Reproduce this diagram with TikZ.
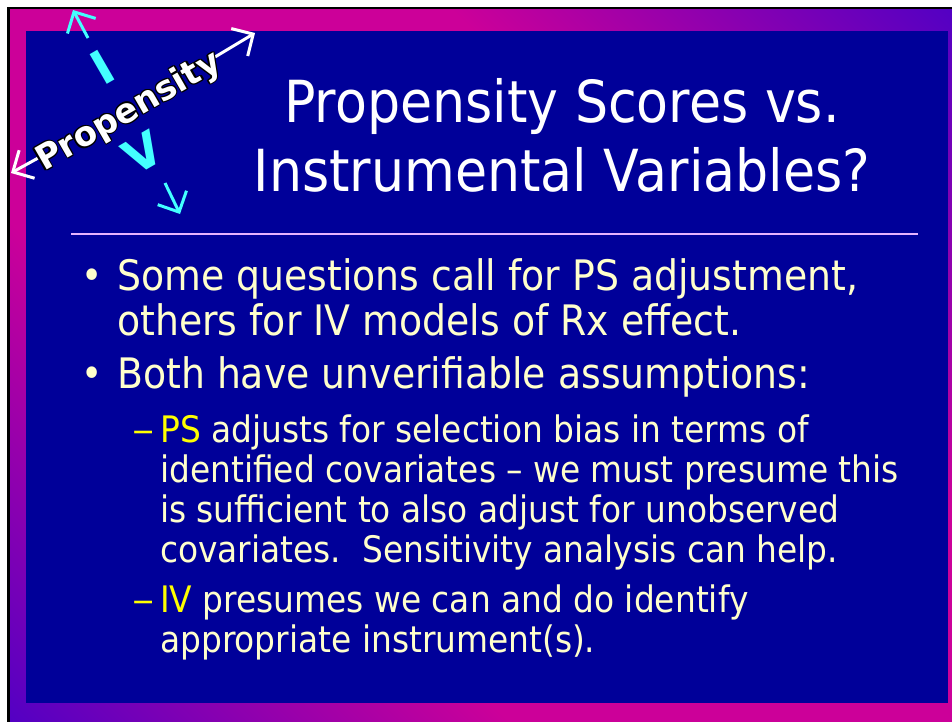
\documentclass[tikz,border=0pt]{standalone}
\usepackage{fontspec}
\setmainfont{DejaVu Sans}[FakeStretch=0.9]
\newfontfamily\logofont{DejaVu Sans}
\usetikzlibrary{arrows.meta}
\definecolor{slidebg}{HTML}{000099}
\definecolor{bodytxt}{HTML}{FFFFCC}
\definecolor{hilite}{HTML}{FFFF00}
\definecolor{rulec}{HTML}{E6B3FF}
\definecolor{magc}{HTML}{CC0099}
\definecolor{bluec}{HTML}{3A00CC}
\definecolor{cyanc}{HTML}{44FFFF}
\pgfdeclareverticalshading{bordershade}{100bp}{color(0bp)=(bluec); color(10bp)=(bluec); color(36bp)=(magc); color(64bp)=(magc); color(90bp)=(bluec); color(100bp)=(bluec)}
\tikzset{
  titletext/.style={text=white, inner sep=0pt, anchor=base, font=\fontsize{58}{58}\selectfont},
  lvlone/.style={text=bodytxt, inner sep=0pt, anchor=base west, font=\fontsize{42}{42}\selectfont},
  lvltwo/.style={text=bodytxt, inner sep=0pt, anchor=base west, font=\fontsize{36.5}{36.5}\selectfont},
  bulletmark/.style={text=bodytxt, inner sep=0pt, anchor=base west, font=\fontsize{40}{40}\selectfont},
  dashmark/.style={text=hilite, inner sep=0pt, anchor=base west, font=\fontsize{36.5}{36.5}\selectfont},
  logoarrow/.style={line width=3pt, -{Straight Barb[length=16pt,width=32pt,line width=3pt]}},
  logoword/.style={rotate=30, inner sep=0pt, font=\logofont\bfseries\fontsize{34}{34}\selectfont},
  logoletter/.style={rotate=30, inner sep=0pt, text=cyanc, font=\logofont\bfseries\fontsize{47}{47}\selectfont},
}
\begin{document}
\begin{tikzpicture}[x=1pt,y=-1pt]
\useasboundingbox (0,0) rectangle (952,722);
\fill[white] (0,0) rectangle (952,722);
% frame
\shade[shading=bordershade, shading angle=-45] (9,9) rectangle (952,722);
\draw[black, line width=2.5pt] (8.25,722) -- (8.25,8.25) -- (952,8.25);
\fill[slidebg] (26,31) rectangle (948,703);
% title
\node[titletext] (t1) at (562,123) {Propensity Scores vs.};
\node[titletext] (t2) at (562,192) {Instrumental Variables?};
\coordinate (rulel) at (71,234);
\coordinate (ruler) at (918,234);
\draw[rulec, line width=1.5pt] (rulel) -- (ruler);
% bullets
\node[bulletmark] (b1) at (81,289) {•};
\node[lvlone] (l1a) at (117,290) {Some questions call for PS adjustment,};
\node[lvlone] (l1b) at (117,335) {others for IV models of Rx effect.};
\node[bulletmark] (b2) at (81,387) {•};
\node[lvlone] (l2a) at (117,388) {Both have unverifiable assumptions:};
\node[dashmark] (d1) at (132,442) {\scalebox{1.35}[1]{–}};
\node[lvltwo] (s1a) at (160,442) {{\color{hilite}PS} adjusts for selection bias in terms of};
\node[lvltwo] (s1b) at (160,482) {identified covariates – we must presume this};
\node[lvltwo] (s1c) at (160,522) {is sufficient to also adjust for unobserved};
\node[lvltwo] (s1d) at (160,562) {covariates.\ \ Sensitivity analysis can help.};
\node[dashmark] (d2) at (132,612) {\scalebox{1.35}[1]{–}};
\node[lvltwo] (s2a) at (160,612) {{\color{hilite}IV} presumes we can and do identify};
\node[lvltwo] (s2b) at (160,652) {appropriate instrument(s).};
% logo
\coordinate (wlt) at (40,157); \coordinate (wlh) at (11,173);
\coordinate (wrt) at (215,57); \coordinate (wrh) at (255,33);
\coordinate (cit) at (88,38);  \coordinate (cih) at (73,10);
\coordinate (cvt) at (165,183); \coordinate (cvh) at (180,214);
\draw[logoarrow, white] (wlt) -- (wlh);
\draw[logoarrow, white] (wrt) -- (wrh);
\draw[logoarrow, cyanc] (cit) -- (cih);
\draw[logoarrow, cyanc] (cvt) -- (cvh);
\foreach \dx/\dy in {1.2/0,-1.2/0,0/1.2,0/-1.2,0.85/0.85,-0.85/0.85,0.85/-0.85,-0.85/-0.85}
  \node[logoword, text=black, shift={(\dx,\dy)}] at (129,112) {Propensity};
\node[logoword, text=white] (prop) at (129,112) {Propensity};
\node[logoletter] (li) at (102.5,67.5) {I};
\node[logoletter] (lv) at (143,153) {V};
\end{tikzpicture}
\end{document}
